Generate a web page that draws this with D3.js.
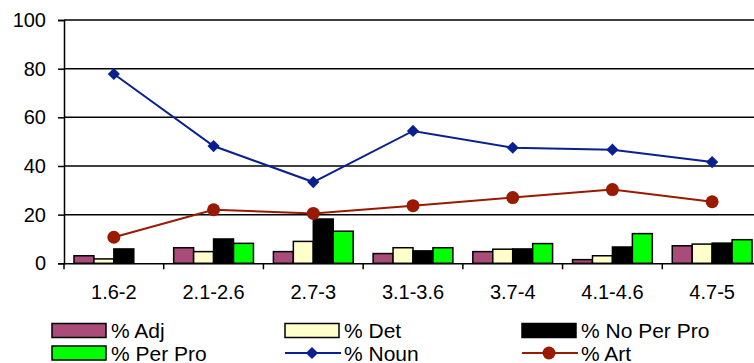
<!DOCTYPE html>
<html>
<head>
<meta charset="utf-8">
<script src="https://cdn.jsdelivr.net/npm/d3@7"></script>
<style>
  html, body { margin: 0; padding: 0; background: #fff; }
  svg { display: block; font-family: Arial, "Liberation Sans", sans-serif; }
</style>
</head>
<body>
<svg id="chart" width="754" height="363"></svg>
<script>
// Reading-level bands
const categories = ["1.6-2", "2.1-2.6", "2.7-3", "3.1-3.6", "3.7-4", "4.1-4.6", "4.7-5"];

// Bar series (percentages)
const adj      = [3.1, 6.4, 4.8, 4.0, 4.8, 1.5, 7.2];
const det      = [1.8, 4.8, 9.0, 6.4, 5.8, 3.1, 7.9];
const noPerPro = [5.9, 10.0, 18.2, 5.1, 5.9, 6.7, 8.3];
const perPro   = [0.0, 8.2, 13.2, 6.4, 8.1, 12.2, 9.7];

// Line series (percentages)
const noun = [77.8, 48.2, 33.4, 54.4, 47.5, 46.7, 41.6];
const art  = [10.7, 22.0, 20.5, 23.7, 27.0, 30.3, 25.3];

const yTicks = [0, 20, 40, 60, 80, 100];

const barSeries = [
  { name: "% Adj", values: adj, color: "#AA4C7A" },
  { name: "% Det", values: det, color: "#FFFFCC" },
  { name: "% No Per Pro", values: noPerPro, color: "#000000" },
  { name: "% Per Pro", values: perPro, color: "#00FF00" }
];
const lineSeries = [
  { name: "% Noun", values: noun, color: "#0A2090", marker: "diamond" },
  { name: "% Art", values: art, color: "#991A00", marker: "circle" }
];

const svg = d3.select("#chart");
const plot = { left: 64, right: 762, top: 20, bottom: 263.3 };

const x = d3.scaleBand().domain(categories).range([plot.left, plot.right]).padding(0);
const y = d3.scaleLinear().domain([0, 100]).range([plot.bottom, plot.top]);

// Horizontal gridlines
svg.append("g")
  .selectAll("line")
  .data(yTicks.filter(t => t > 0))
  .join("line")
  .attr("x1", plot.left).attr("x2", plot.right)
  .attr("y1", d => y(d)).attr("y2", d => y(d))
  .attr("stroke", "#000").attr("stroke-width", 1.5);

// Y axis
const yAxis = svg.append("g")
  .attr("transform", `translate(${plot.left},0)`)
  .call(d3.axisLeft(y).tickValues(yTicks).tickSize(6).tickPadding(12));
yAxis.select(".domain").attr("stroke", "#000").attr("stroke-width", 1.5);
yAxis.selectAll(".tick line").attr("stroke", "#000").attr("stroke-width", 1.5);
yAxis.selectAll("text").attr("font-size", 20).attr("fill", "#000")
  .attr("font-family", "Arial, 'Liberation Sans', sans-serif");

// X axis
const xAxis = svg.append("g")
  .attr("transform", `translate(0,${plot.bottom})`)
  .call(d3.axisBottom(x).tickSize(0).tickPadding(22));
xAxis.select(".domain").attr("stroke", "#000").attr("stroke-width", 1.5);
xAxis.selectAll("text").attr("font-size", 20).attr("fill", "#000")
  .attr("font-family", "Arial, 'Liberation Sans', sans-serif");
// Tick marks between categories
svg.append("g")
  .selectAll("line")
  .data(categories)
  .join("line")
  .attr("x1", d => x(d)).attr("x2", d => x(d))
  .attr("y1", plot.bottom).attr("y2", plot.bottom + 6)
  .attr("stroke", "#000").attr("stroke-width", 1.5);

// Bars: bar width and gap are equal (four bars + one gap per category)
const barW = x.bandwidth() / 5;
const bars = svg.append("g");
barSeries.forEach((s, i) => {
  bars.append("g")
    .selectAll("rect")
    .data(s.values.map((v, j) => ({ v, c: categories[j] })))
    .join("rect")
    .attr("x", d => x(d.c) + barW / 2 + i * barW)
    .attr("y", d => y(d.v))
    .attr("width", barW)
    .attr("height", d => y(0) - y(d.v))
    .attr("fill", s.color)
    .attr("stroke", "#000")
    .attr("stroke-width", d => d.v > 0 ? 1.5 : 0);
});

// Lines with markers
const cx = c => x(c) + x.bandwidth() / 2;
const diamond = d3.symbol().type(d3.symbolDiamond2).size(95);
lineSeries.forEach(s => {
  const pts = s.values.map((v, j) => [cx(categories[j]), y(v)]);
  svg.append("path")
    .attr("d", d3.line()(pts))
    .attr("fill", "none")
    .attr("stroke", s.color)
    .attr("stroke-width", 2);
  const g = svg.append("g");
  if (s.marker === "diamond") {
    g.selectAll("path").data(pts).join("path")
      .attr("d", diamond)
      .attr("transform", d => `translate(${d[0]},${d[1]})`)
      .attr("fill", s.color);
  } else {
    g.selectAll("circle").data(pts).join("circle")
      .attr("cx", d => d[0]).attr("cy", d => d[1]).attr("r", 6.5)
      .attr("fill", s.color);
  }
});

// Legend
const legendCols = [52, 285, 522];
const legendRows = [330.5, 353];
const legendItems = [
  { s: barSeries[0], type: "bar" },
  { s: barSeries[1], type: "bar" },
  { s: barSeries[2], type: "bar" },
  { s: barSeries[3], type: "bar" },
  { s: lineSeries[0], type: "line" },
  { s: lineSeries[1], type: "line" }
];
const legend = svg.append("g");
legendItems.forEach((it, k) => {
  const lx = legendCols[k % 3], ly = legendRows[Math.floor(k / 3)];
  const g = legend.append("g").attr("transform", `translate(${lx},${ly})`);
  if (it.type === "bar") {
    g.append("rect").attr("x", 0).attr("y", -7).attr("width", 54).attr("height", 14)
      .attr("fill", it.s.color).attr("stroke", "#000").attr("stroke-width", 1.5);
  } else {
    g.append("line").attr("x1", 0).attr("x2", 56).attr("y1", 0).attr("y2", 0)
      .attr("stroke", it.s.color).attr("stroke-width", 2);
    if (it.s.marker === "diamond") {
      g.append("path").attr("d", diamond).attr("transform", "translate(27,0)").attr("fill", it.s.color);
    } else {
      g.append("circle").attr("cx", 27).attr("cy", 0).attr("r", 6.5).attr("fill", it.s.color);
    }
  }
  g.append("text").attr("x", 59).attr("y", 7.5)
    .attr("font-size", 21).attr("fill", "#000")
    .text(it.s.name);
});
</script>
</body>
</html>
